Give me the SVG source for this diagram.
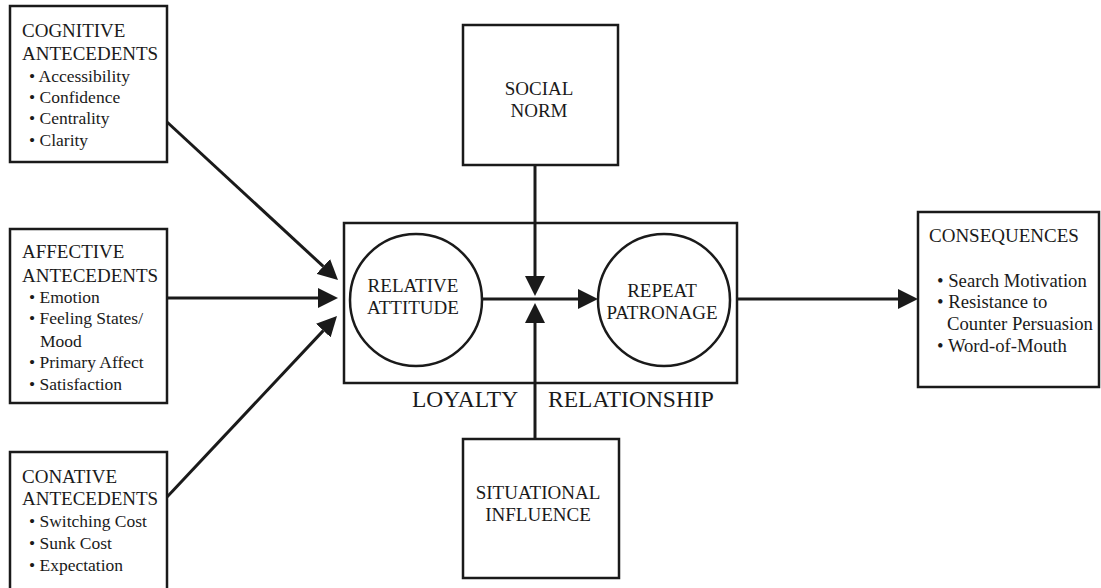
<svg xmlns="http://www.w3.org/2000/svg" width="1101" height="588" viewBox="0 0 1101 588" font-family="Liberation Serif, Times New Roman, serif">
<style>
.box{fill:#fff;stroke:#1a1a1a;stroke-width:2.5}
.circ{fill:#fff;stroke:#1a1a1a;stroke-width:2.5}
.ln{fill:none;stroke:#1a1a1a;stroke-width:3}
.arr{marker-end:url(#ah)}
text{font-family:'Liberation Serif','Times New Roman',serif;fill:#1a1a1a}
.h{font-size:19px}
.b{font-size:17.5px}
.c{font-size:18.7px}
.m{font-size:19px;text-anchor:middle}
.big{font-size:23.5px}
</style>
<defs>
<marker id="ah" viewBox="0 0 20 20" refX="0" refY="10" markerWidth="20" markerHeight="20" markerUnits="userSpaceOnUse" orient="auto">
<path d="M0,0 L20,10 L0,20 z" fill="#1a1a1a"/>
</marker>
</defs>

<g id="loyalty">
<rect class="box" x="344" y="223" width="393" height="160"/>
<text class="big" x="412" y="407">LOYALTY</text>
<text class="big" x="548" y="407">RELATIONSHIP</text>
</g>

<g id="relative-attitude">
<circle class="circ" cx="416" cy="300" r="66"/>
<text class="m" x="413" y="292">RELATIVE</text>
<text class="m" x="413" y="314">ATTITUDE</text>
</g>

<g id="repeat-patronage">
<circle class="circ" cx="664" cy="300" r="66"/>
<text class="m" x="662" y="297">REPEAT</text>
<text class="m" x="662" y="319">PATRONAGE</text>
</g>

<g id="cognitive">
<rect class="box" x="10" y="6" width="157" height="156"/>
<text class="h" x="22" y="37">COGNITIVE</text>
<text class="h" x="22" y="60">ANTECEDENTS</text>
<text class="b" x="29" y="82">• Accessibility</text>
<text class="b" x="29" y="103">• Confidence</text>
<text class="b" x="29" y="124">• Centrality</text>
<text class="b" x="29" y="146">• Clarity</text>
</g>

<g id="affective">
<rect class="box" x="10" y="229" width="157" height="174"/>
<text class="h" x="22" y="258">AFFECTIVE</text>
<text class="h" x="22" y="282">ANTECEDENTS</text>
<text class="b" x="29" y="303">• Emotion</text>
<text class="b" x="29" y="324">• Feeling States/</text>
<text class="b" x="40" y="347">Mood</text>
<text class="b" x="29" y="368">• Primary Affect</text>
<text class="b" x="29" y="390">• Satisfaction</text>
</g>

<g id="conative">
<rect class="box" x="10" y="452" width="157" height="140"/>
<text class="h" x="22" y="483">CONATIVE</text>
<text class="h" x="22" y="505">ANTECEDENTS</text>
<text class="b" x="29" y="527">• Switching Cost</text>
<text class="b" x="29" y="549">• Sunk Cost</text>
<text class="b" x="29" y="571">• Expectation</text>
</g>

<g id="social-norm">
<rect class="box" x="463" y="25" width="155" height="140"/>
<text class="m" x="539" y="95">SOCIAL</text>
<text class="m" x="539" y="117">NORM</text>
</g>

<g id="situational-influence">
<rect class="box" x="463" y="439" width="156" height="139"/>
<text class="m" x="538" y="499">SITUATIONAL</text>
<text class="m" x="538" y="521">INFLUENCE</text>
</g>

<g id="consequences">
<rect class="box" x="918" y="212" width="181" height="175"/>
<text class="h" x="929" y="242">CONSEQUENCES</text>
<text class="c" x="937" y="287">• Search Motivation</text>
<text class="c" x="937" y="308">• Resistance to</text>
<text class="c" x="947" y="330">Counter Persuasion</text>
<text class="c" x="937" y="352">• Word-of-Mouth</text>
</g>

<g id="connectors">
<line class="ln arr" x1="167" y1="122" x2="323.3" y2="266.4"/>
<line class="ln arr" x1="167" y1="298" x2="318" y2="298"/>
<line class="ln arr" x1="167" y1="497" x2="323.3" y2="330.6"/>
<line class="ln arr" x1="482" y1="299" x2="578" y2="299"/>
<line class="ln arr" x1="535" y1="165" x2="535" y2="276"/>
<line class="ln arr" x1="535" y1="439" x2="535" y2="323"/>
<line class="ln arr" x1="737" y1="299" x2="898" y2="299"/>
</g>
</svg>
